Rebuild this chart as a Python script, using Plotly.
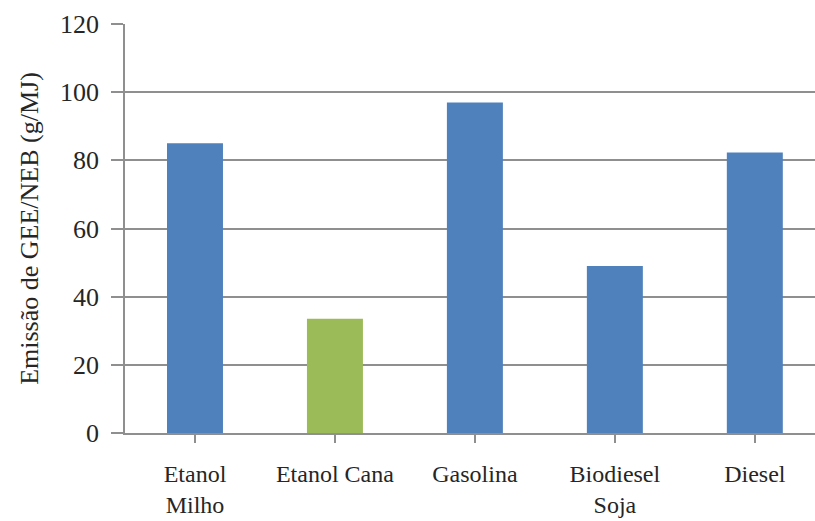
import plotly.graph_objects as go

# Emissões de gases de efeito estufa por combustível
categorias = ["Etanol<br>Milho", "Etanol Cana", "Gasolina", "Biodiesel<br>Soja", "Diesel"]
emissoes = [85, 33.5, 97, 49, 82.3]
cores = ["#4F81BD", "#9BBB59", "#4F81BD", "#4F81BD", "#4F81BD"]
y_ticks = [0, 20, 40, 60, 80, 100, 120]

fonte = "Liberation Serif"
cor_texto = "#262626"
cor_grade = "#8f8f8f"

fig = go.Figure(
    go.Bar(
        x=list(range(len(categorias))),
        y=emissoes,
        marker=dict(color=cores, line=dict(width=0)),
        width=0.4,
        hoverinfo="skip",
    )
)

fig.update_layout(
    width=815,
    height=521,
    margin=dict(l=125, r=0, t=24, b=88),
    paper_bgcolor="white",
    plot_bgcolor="white",
    showlegend=False,
    font=dict(family=fonte, size=25, color=cor_texto),
)

fig.update_xaxes(
    tickmode="array",
    tickvals=list(range(len(categorias))),
    ticktext=categorias,
    range=[-0.5, 4.43],
    showline=True,
    linecolor=cor_grade,
    linewidth=1.5,
    showgrid=False,
    ticks="outside",
    tickson="boundaries",
    ticklen=8,
    tickcolor=cor_grade,
    tickwidth=1.5,
    tickfont=dict(family=fonte, size=24, color=cor_texto),
    ticklabelstandoff=10,
    zeroline=False,
    automargin=False,
)

fig.update_yaxes(
    range=[0, 120],
    tickmode="array",
    tickvals=y_ticks,
    ticktext=[str(v) for v in y_ticks],
    showline=True,
    linecolor=cor_grade,
    linewidth=1.5,
    showgrid=True,
    gridcolor=cor_grade,
    gridwidth=1.8,
    ticks="outside",
    ticklen=12,
    tickcolor=cor_grade,
    tickwidth=1.5,
    tickfont=dict(family=fonte, size=26, color=cor_texto),
    ticklabelstandoff=7,
    zeroline=False,
    automargin=False,
    title=dict(
        text="Emissão de GEE/NEB (g/MJ)",
        font=dict(family=fonte, size=26, color=cor_texto),
        standoff=14,
    ),
)

fig.write_html("out.html")
